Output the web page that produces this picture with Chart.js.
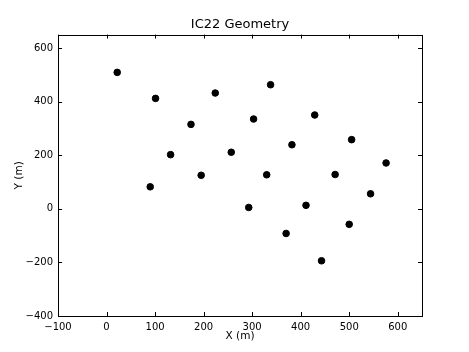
<!DOCTYPE html>
<html>
<head>
<meta charset="utf-8">
<script src="https://cdn.jsdelivr.net/npm/chart.js@4"></script>
<style>
  html, body { margin: 0; padding: 0; background: #fff; }
  #chart { display: block; }
</style>
</head>
<body>
<canvas id="chart" width="469" height="352"></canvas>
<script>
// string positions (metres)
const stringX = [22, 101, 224, 338, 174, 303, 429, 132, 257, 382, 505, 90, 195, 330, 471, 576, 293, 411, 544, 370, 500, 443];
const stringY = [509, 412, 432, 463, 315, 335, 350, 202, 211, 239, 258, 82, 125, 127, 128, 171, 5, 13, 56, -92, -58, -194];
const xTicks = [-100, 0, 100, 200, 300, 400, 500, 600];
const yTicks = [-400, -200, 0, 200, 400, 600];

const points = stringX.map((x, i) => ({ x: x, y: stringY[i] }));
const fontFamily = "'DejaVu Sans', sans-serif";

function minusSign(v) {
  return String(v).replace('-', '\u2212');
}

// matplotlib-style frame with inward ticks on all four sides
const frame = {
  id: 'frame',
  afterDraw(chart) {
    const ctx = chart.ctx;
    const a = chart.chartArea;
    const xs = chart.scales.x, ys = chart.scales.y;
    ctx.save();
    ctx.strokeStyle = '#000';
    ctx.lineWidth = 1;
    ctx.beginPath();
    xTicks.forEach(t => {
      const px = Math.round(xs.getPixelForValue(t)) + 0.5;
      ctx.moveTo(px, a.bottom); ctx.lineTo(px, a.bottom - 4);
      ctx.moveTo(px, a.top); ctx.lineTo(px, a.top + 4);
    });
    yTicks.forEach(t => {
      const py = Math.round(ys.getPixelForValue(t)) + 0.5;
      ctx.moveTo(a.left, py); ctx.lineTo(a.left + 4, py);
      ctx.moveTo(a.right, py); ctx.lineTo(a.right - 4, py);
    });
    ctx.stroke();
    ctx.strokeRect(Math.round(a.left) + 0.5, Math.round(a.top) + 0.5,
      Math.round(a.right - a.left), Math.round(a.bottom - a.top));
    ctx.restore();
  }
};

new Chart(document.getElementById('chart').getContext('2d'), {
  type: 'scatter',
  data: {
    datasets: [{
      data: points,
      backgroundColor: '#000',
      borderColor: '#000',
      pointRadius: 3.3,
      pointHoverRadius: 3.3
    }]
  },
  options: {
    responsive: false,
    animation: false,
    layout: { padding: { left: 0, right: 47, top: 0, bottom: 0 } },
    plugins: {
      legend: { display: false },
      tooltip: { enabled: false },
      title: {
        display: true,
        fullSize: false,
        text: 'IC22 Geometry',
        color: '#000',
        font: { family: fontFamily, size: 13, weight: 'normal' },
        padding: { top: 17, bottom: 2 }
      }
    },
    scales: {
      x: {
        type: 'linear',
        min: -100,
        max: 650,
        afterBuildTicks: s => { s.ticks = xTicks.map(v => ({ value: v })); },
        afterFit: s => { s.height = 36; },
        grid: { display: false, drawTicks: false },
        border: { display: false },
        ticks: {
          color: '#000',
          padding: 5,
          maxRotation: 0,
          autoSkip: false,
          font: { family: fontFamily, size: 10 },
          callback: v => minusSign(v)
        },
        title: {
          display: true,
          text: 'X (m)',
          color: '#000',
          font: { family: fontFamily, size: 10.5 },
          padding: { top: 0, bottom: 9 }
        }
      },
      y: {
        type: 'linear',
        min: -400,
        max: 650,
        afterBuildTicks: s => { s.ticks = yTicks.map(v => ({ value: v })); },
        afterFit: s => { s.width = 58; },
        grid: { display: false, drawTicks: false },
        border: { display: false },
        ticks: {
          color: '#000',
          padding: 5,
          autoSkip: false,
          font: { family: fontFamily, size: 10 },
          callback: v => minusSign(v)
        },
        title: {
          display: true,
          text: 'Y (m)',
          color: '#000',
          font: { family: fontFamily, size: 10.5 },
          padding: { top: 13, bottom: 0 }
        }
      }
    }
  },
  plugins: [frame]
});
</script>
</body>
</html>
